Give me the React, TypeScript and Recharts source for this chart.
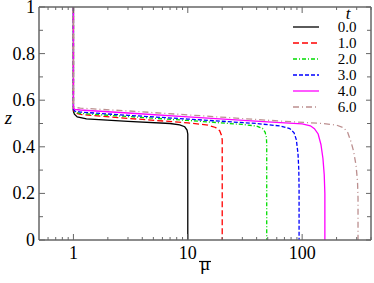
import React from "react";
import { LineChart, Line, XAxis, YAxis, Legend } from "recharts";

// legend labels (t values)
const tLabels = ["0.0", "1.0", "2.0", "3.0", "4.0", "6.0"];

// profiles: [mu, z]
const curveT0 = [
  [1, 1], [1, 0.552], [1.02, 0.54], [1.08, 0.528], [1.3, 0.52], [3, 0.509],
  [7, 0.5], [8.5, 0.494], [9.4, 0.486], [9.85, 0.472], [10, 0.455], [10, 0],
];
const curveT1 = [
  [1, 1], [1, 0.556], [1.03, 0.546], [1.15, 0.539], [3, 0.522], [10, 0.503],
  [15, 0.493], [17.5, 0.483], [19, 0.469], [19.7, 0.45], [20, 0.43], [20, 0],
];
const curveT2 = [
  [1, 1], [1, 0.558], [1.03, 0.549], [1.15, 0.543], [3, 0.53], [10, 0.513],
  [30, 0.496], [40, 0.489], [45, 0.479], [47.5, 0.462], [48.7, 0.44], [49, 0.41], [49, 0],
];
const curveT3 = [
  [1, 1], [1, 0.56], [1.03, 0.553], [1.15, 0.549], [3, 0.535], [10, 0.519],
  [40, 0.5], [65, 0.489], [78, 0.478], [85, 0.46], [89, 0.43], [92, 0.37],
  [93.5, 0.3], [94, 0.22], [94, 0],
];
const curveT4 = [
  [1, 1], [1, 0.565], [1.03, 0.561], [1.15, 0.558], [3, 0.545], [10, 0.528],
  [50, 0.507], [100, 0.498], [118, 0.49], [128, 0.478], [138, 0.455], [146, 0.41],
  [152, 0.35], [156, 0.28], [158, 0.2], [158, 0],
];
const curveT6 = [
  [1, 1], [1, 0.572], [1.03, 0.569], [1.15, 0.566], [3, 0.554], [10, 0.537],
  [50, 0.514], [150, 0.5], [200, 0.493], [230, 0.482], [250, 0.462], [268, 0.42],
  [282, 0.38], [296, 0.32], [305, 0.25], [308, 0.18], [308, 0],
];
const curves = [curveT0, curveT1, curveT2, curveT3, curveT4, curveT6];

// axis ticks
const xMajor = [1, 10, 100];
const xTicks = [
  0.6, 0.7, 0.8, 0.9, 1, 2, 3, 4, 5, 6, 7, 8, 9, 10,
  20, 30, 40, 50, 60, 70, 80, 90, 100, 200, 300, 400,
];
const zTicks = [0, 0.1, 0.2, 0.3, 0.4, 0.5, 0.6, 0.7, 0.8, 0.9, 1];

const lineStyles = [
  { stroke: "#000000", dash: undefined },
  { stroke: "#ff0000", dash: "6 3" },
  { stroke: "#00dd00", dash: "4 2 1 2" },
  { stroke: "#0000ff", dash: "4 2" },
  { stroke: "#ff00ff", dash: undefined },
  { stroke: "#bc8f8f", dash: "6 3 1 3" },
];

const axisColor = "#666666";
const serif = { fontFamily: "Liberation Serif, Times New Roman, DejaVu Serif, serif" };

const isMajorZ = (v: number) => Math.round(v * 10) % 2 === 0;

const BottomTick = (props: any) => {
  const { x, y, payload } = props;
  const major = xMajor.includes(payload.value);
  return (
    <g>
      <line x1={x} x2={x} y1={y} y2={y - (major ? 6 : 3)} stroke={axisColor} />
      {major && (
        <text x={x} y={y + 18.5} textAnchor="middle" fontSize={18} style={serif} fill="#000">
          {payload.value}
        </text>
      )}
    </g>
  );
};

const TopTick = (props: any) => {
  const { x, y, payload } = props;
  const major = xMajor.includes(payload.value);
  return <line x1={x} x2={x} y1={y} y2={y + (major ? 6 : 3)} stroke={axisColor} />;
};

const LeftTick = (props: any) => {
  const { x, y, payload } = props;
  const major = isMajorZ(payload.value);
  return (
    <g>
      <line x1={x} x2={x + (major ? 6 : 4)} y1={y} y2={y} stroke={axisColor} />
      {major && (
        <text x={x - 4} y={y + 6} textAnchor="end" fontSize={18} style={serif} fill="#000">
          {String(payload.value)}
        </text>
      )}
    </g>
  );
};

const RightTick = (props: any) => {
  const { x, y, payload } = props;
  const major = isMajorZ(payload.value);
  return <line x1={x} x2={x - (major ? 5 : 4)} y1={y} y2={y} stroke={axisColor} />;
};

const renderLegend = () => (
  <svg width={86} height={120}>
    <text x={60} y={19} textAnchor="middle" fontSize={17}
      fontStyle="italic" style={serif} fill="#000">t</text>
    {tLabels.map((lab, i) => (
      <g key={lab}>
        <line x1={5} x2={31} y1={27 + 16 * i} y2={27 + 16 * i} stroke={lineStyles[i].stroke}
          strokeWidth={1.3} strokeDasharray={lineStyles[i].dash} />
        <text x={59} y={32 + 16 * i} textAnchor="middle"
          fontSize={15} style={serif} fill="#000">{lab}</text>
      </g>
    ))}
  </svg>
);

const MuLabel = (p: any) => {
  const cx = p.viewBox.x + p.viewBox.width / 2;
  const base = p.viewBox.y + 30;
  return (
    <g>
      <text x={cx} y={base} textAnchor="middle" fontSize={19} style={serif} fill="#000">
        {"\u03bc"}
      </text>
      <line x1={cx - 6} x2={cx + 6} y1={base - 8.5} y2={base - 8.5} stroke="#000" strokeWidth={1.2} />
    </g>
  );
};

export default function App() {
  return (
    <div style={{ position: "absolute", left: 0, top: 0 }}>
      <LineChart width={374} height={283} margin={{ top: 7, right: 3, bottom: 0, left: 0 }}>
        <XAxis
          xAxisId="x" dataKey="mu" type="number" scale="log" domain={[0.5, 400]} allowDataOverflow
          ticks={xTicks} interval={0} tickLine={false} tickSize={0} tickMargin={0} tick={BottomTick}
          height={43} axisLine={{ stroke: axisColor, strokeWidth: 1.5 }}
          label={MuLabel}
        />
        <XAxis
          xAxisId="top" orientation="top" mirror dataKey="mu" type="number" scale="log"
          domain={[0.5, 400]} allowDataOverflow ticks={xTicks} interval={0} tickLine={false}
          tickSize={0} tickMargin={0} tick={TopTick} axisLine={{ stroke: axisColor, strokeWidth: 1.5 }}
        />
        <YAxis
          yAxisId="z" type="number" domain={[0, 1]} allowDataOverflow ticks={zTicks} interval={0}
          tickLine={false} tickSize={0} tickMargin={0} tick={LeftTick} width={39}
          axisLine={{ stroke: axisColor, strokeWidth: 1.5 }}
          label={(p: any) => (
            <text x={p.viewBox.x + 8.5} y={p.viewBox.y + p.viewBox.height / 2} textAnchor="middle"
              fontSize={19} fontStyle="italic" style={serif} fill="#000">z</text>
          )}
        />
        <YAxis
          yAxisId="right" orientation="right" mirror type="number" domain={[0, 1]} allowDataOverflow
          ticks={zTicks} interval={0} tickLine={false} tickSize={0} tickMargin={0} tick={RightTick}
          axisLine={{ stroke: axisColor, strokeWidth: 1.5 }}
        />
        <Legend
          layout="vertical" align="center" verticalAlign="middle" content={renderLegend}
          wrapperStyle={{ top: 0, left: 288, width: 86, height: 120 }}
        />
        {curves.map((c, i) => (
          <Line
            key={tLabels[i]}
            xAxisId="x"
            yAxisId="z"
            data={c.map(([mu, z]) => ({ mu, z }))}
            dataKey="z"
            name={tLabels[i]}
            type="linear"
            stroke={lineStyles[i].stroke}
            strokeWidth={1.3}
            strokeDasharray={lineStyles[i].dash}
            dot={false}
            activeDot={false}
            isAnimationActive={false}
          />
        ))}
      </LineChart>
    </div>
  );
}
